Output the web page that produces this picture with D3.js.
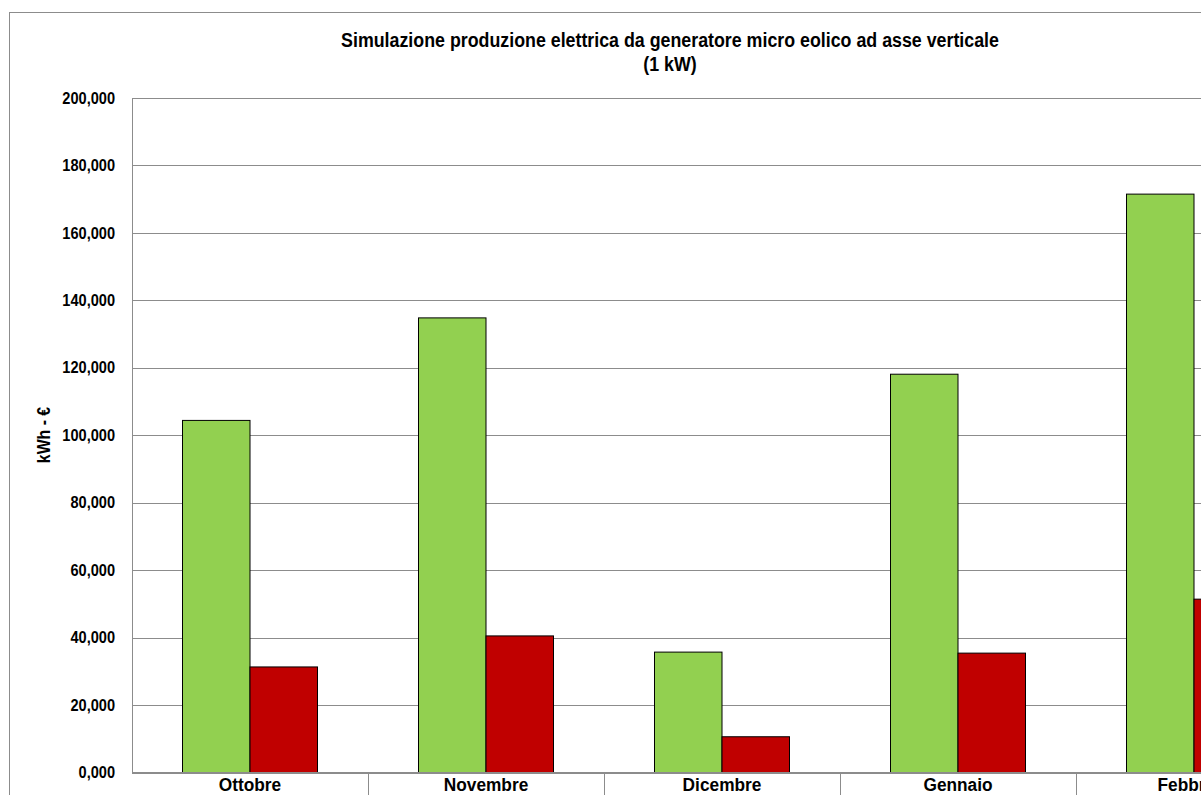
<!DOCTYPE html>
<html>
<head>
<meta charset="utf-8">
<script src="https://cdn.jsdelivr.net/npm/d3@7"></script>
<style>
  html, body { margin: 0; padding: 0; background: #fff; overflow: hidden; }
  svg { display: block; }
  text { font-family: "Liberation Sans", Arial, sans-serif; font-weight: bold; fill: #000; }
</style>
</head>
<body>
<svg id="chart" width="1201" height="795"></svg>
<script>
// Monthly simulated output of a 1 kW vertical-axis micro wind generator
const months = ["Ottobre", "Novembre", "Dicembre", "Gennaio", "Febbraio"];
const energyKWh = [104.4, 134.8, 35.7, 118.1, 171.5];   // green series
const valueEuro = [31.3, 40.5, 10.6, 35.4, 51.4];        // red series
const yTicks = [0, 20, 40, 60, 80, 100, 120, 140, 160, 180, 200];
const seriesColors = ["#92D050", "#C00000"];

const svg = d3.select("#chart");

const plot = { left: 132, top: 98, bottom: 772.5, band: 236 };
const plotRight = plot.left + plot.band * months.length;

const x = d3.scaleBand()
  .domain(months)
  .range([plot.left, plotRight])
  .paddingInner(0).paddingOuter(0);

const y = d3.scaleLinear().domain([0, 200]).range([plot.bottom, plot.top]);

const fmt = v => d3.format(".3f")(v).replace(".", ",");

// condensed look: squeeze glyphs horizontally by a factor
function narrow(sel, factor) {
  sel.each(function () {
    const w = this.getComputedTextLength();
    d3.select(this).attr("textLength", w * factor).attr("lengthAdjust", "spacingAndGlyphs");
  });
}

// outer chart frame
svg.append("rect")
  .attr("x", 9.5).attr("y", 12.5)
  .attr("width", 1400).attr("height", 1000)
  .attr("fill", "none").attr("stroke", "#8c8c8c").attr("stroke-width", 1);

// title
const titleLines = [
  { t: "Simulazione produzione elettrica da generatore micro eolico ad asse verticale", y: 47 },
  { t: "(1 kW)", y: 71 }
];
svg.append("g").selectAll("text")
  .data(titleLines)
  .join("text")
  .attr("x", 670).attr("y", d => d.y)
  .attr("text-anchor", "middle")
  .style("font-size", "20px")
  .text(d => d.t)
  .call(narrow, 0.89);

// horizontal gridlines
svg.append("g")
  .selectAll("line")
  .data(yTicks)
  .join("line")
  .attr("x1", plot.left).attr("x2", plotRight)
  .attr("y1", d => Math.round(y(d)) + 0.5).attr("y2", d => Math.round(y(d)) + 0.5)
  .attr("stroke", "#8c8c8c").attr("stroke-width", 1);

// plot-area left border
svg.append("line")
  .attr("x1", plot.left + 0.5).attr("x2", plot.left + 0.5)
  .attr("y1", plot.top).attr("y2", plot.bottom)
  .attr("stroke", "#8c8c8c");

// y axis labels
const yAxis = d3.axisLeft(y).tickValues(yTicks).tickFormat(fmt).tickSize(0).tickPadding(17);
const gy = svg.append("g").attr("transform", `translate(${plot.left},0)`).call(yAxis);
gy.select(".domain").remove();
gy.selectAll("text")
  .style("font-size", "16px")
  .style("font-family", "'Liberation Sans', Arial, sans-serif")
  .style("font-weight", "bold")
  .attr("fill", "#000")
  .call(narrow, 0.91);

// y axis title
svg.append("text")
  .attr("transform", "translate(50,435) rotate(-90)")
  .attr("text-anchor", "middle")
  .style("font-size", "18px")
  .text("kWh - €")
  .call(narrow, 0.88);

// category separators below baseline
svg.append("g")
  .selectAll("line")
  .data(months.slice(1))
  .join("line")
  .attr("x1", d => x(d) + 0.5).attr("x2", d => x(d) + 0.5)
  .attr("y1", plot.bottom).attr("y2", 800)
  .attr("stroke", "#8c8c8c");

// bars
const barW = 67.5;
const groupOffset = (x.bandwidth() - 2 * barW) / 2;
const rows = months.map((m, i) => ({ m, vals: [energyKWh[i], valueEuro[i]] }));

const groups = svg.append("g").selectAll("g")
  .data(rows)
  .join("g")
  .attr("transform", d => `translate(${x(d.m) + groupOffset},0)`);

groups.selectAll("rect")
  .data(d => d.vals.map((v, k) => ({ v, k })))
  .join("rect")
  .attr("x", d => d.k * barW)
  .attr("y", d => y(d.v))
  .attr("width", barW)
  .attr("height", d => y(0) - y(d.v))
  .attr("fill", d => seriesColors[d.k])
  .attr("stroke", "#000").attr("stroke-width", 1);

// baseline
svg.append("line")
  .attr("x1", plot.left).attr("x2", plotRight)
  .attr("y1", plot.bottom).attr("y2", plot.bottom)
  .attr("stroke", "#8c8c8c");

// category labels
const xAxis = d3.axisBottom(x).tickSize(0).tickPadding(6);
const gx = svg.append("g").attr("transform", `translate(0,${plot.bottom})`).call(xAxis);
gx.select(".domain").remove();
gx.selectAll("text")
  .style("font-size", "18px")
  .style("font-family", "'Liberation Sans', Arial, sans-serif")
  .style("font-weight", "bold")
  .attr("fill", "#000")
  .call(narrow, 0.96);
</script>
</body>
</html>
